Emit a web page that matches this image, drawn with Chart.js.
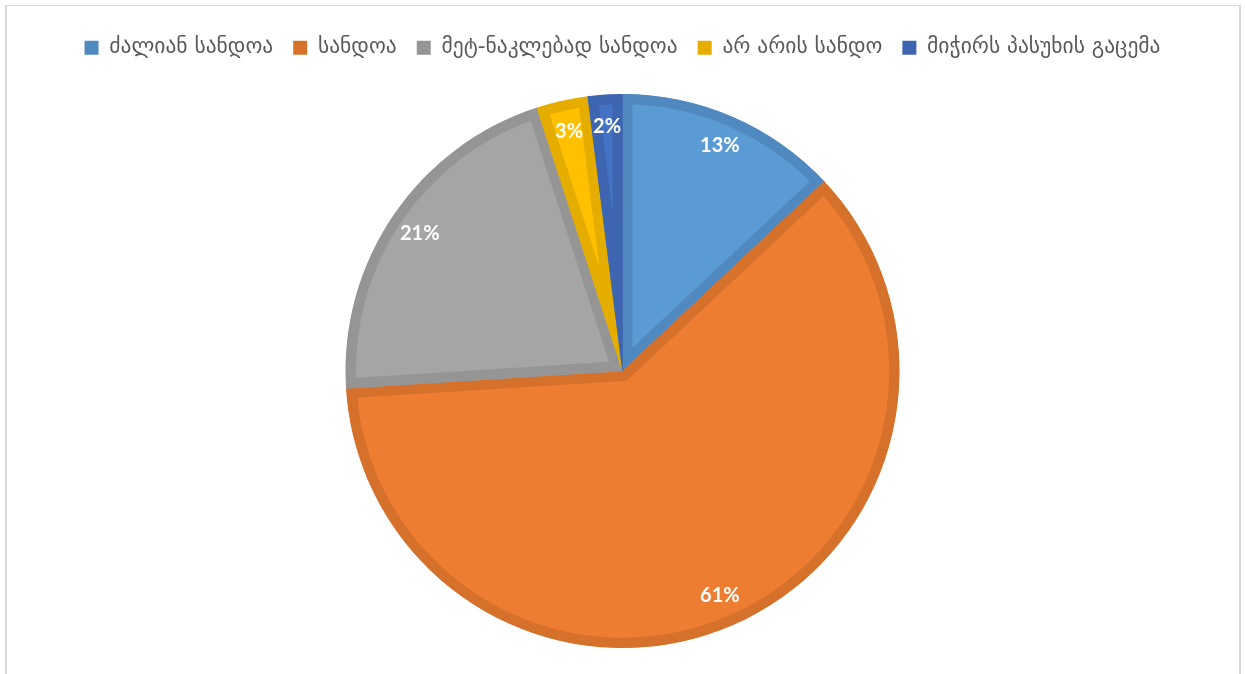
<!DOCTYPE html>
<html>
<head>
<meta charset="utf-8">
<script src="https://cdn.jsdelivr.net/npm/chart.js@4.4.1/dist/chart.umd.min.js"></script>
<style>
  html, body { margin: 0; padding: 0; background: #fff; overflow: hidden; }
  #wrap { position: relative; width: 1245px; height: 674px; }
  #frame { position: absolute; left: 5px; top: 5px; width: 1232px; height: 700px;
           border-left: 2px solid #d9d9d9; border-right: 2px solid #d9d9d9; border-top: 1px solid #d9d9d9; }
  canvas { position: absolute; left: 0; top: 0; }
</style>
</head>
<body>
<div id="wrap">
  <div id="frame"></div>
  <canvas id="c" width="1245" height="674"></canvas>
</div>
<script>
// Survey answers: how trustworthy the source is
const categories = ['ძალიან სანდოა', 'სანდოა', 'მეტ-ნაკლებად სანდოა', 'არ არის სანდო', 'მიჭირს პასუხის გაცემა'];
const shares = [13, 61, 21, 3, 2];
const fillColors = ['#5b9bd5', '#ed7d31', '#a5a5a5', '#ffc000', '#4472c4'];
const edgeColors = ['#4f89c0', '#d6712c', '#959595', '#e5ad00', '#3e66b0'];

const TOP_PAD = 17;      // space above the legend
const PIE_TOP = 94;      // where the plot area starts

// Reserve extra room under the legend so the pie sits lower
const legendSpacer = {
  id: 'legendSpacer',
  beforeInit(chart) {
    const fit = chart.legend.fit;
    chart.legend.fit = function () {
      fit.call(this);
      this.height = PIE_TOP - TOP_PAD;
    };
  }
};

// White percentage labels placed inside each slice
const sliceLabels = {
  id: 'sliceLabels',
  afterDatasetsDraw(chart) {
    const ctx = chart.ctx;
    const meta = chart.getDatasetMeta(0);
    ctx.save();
    ctx.font = 'bold 20px Lato, "Open Sans", sans-serif';
    ctx.fillStyle = '#ffffff';
    ctx.textAlign = 'center';
    ctx.textBaseline = 'middle';
    meta.data.forEach((arc, i) => {
      const p = arc.getProps(['x', 'y', 'startAngle', 'endAngle', 'outerRadius'], true);
      const mid = (p.startAngle + p.endAngle) / 2;
      const r = p.outerRadius * 0.885;
      ctx.fillText(shares[i] + '%', p.x + Math.cos(mid) * r, p.y + Math.sin(mid) * r);
    });
    ctx.restore();
  }
};

new Chart(document.getElementById('c'), {
  type: 'pie',
  data: {
    labels: categories,
    datasets: [{
      data: shares,
      backgroundColor: fillColors,
      borderColor: edgeColors,
      borderWidth: 10,
      borderAlign: 'inner'
    }]
  },
  options: {
    responsive: false,
    animation: false,
    layout: { padding: { top: TOP_PAD, bottom: 26, left: 0, right: 0 } },
    plugins: {
      tooltip: { enabled: false },
      legend: {
        position: 'top',
        labels: {
          color: '#595959',
          font: { family: '"DejaVu Sans", sans-serif', size: 21.5 },
          boxWidth: 14,
          boxHeight: 14,
          padding: 20,
          generateLabels(chart) {
            return categories.map((name, i) => ({
              text: name,
              fillStyle: edgeColors[i],
              strokeStyle: edgeColors[i],
              lineWidth: 0,
              fontColor: '#595959',
              index: i,
              hidden: false
            }));
          }
        }
      }
    }
  },
  plugins: [legendSpacer, sliceLabels]
});
</script>
</body>
</html>
